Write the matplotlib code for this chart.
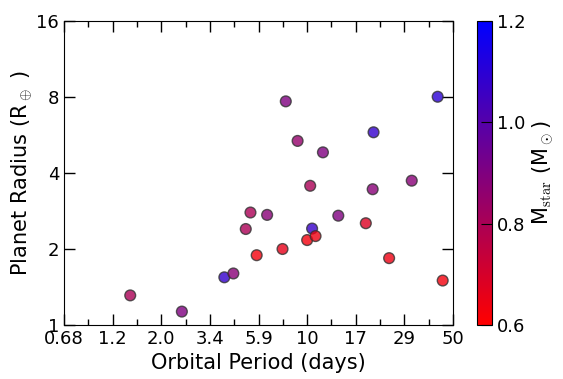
import matplotlib
matplotlib.use('Agg')
import matplotlib.pyplot as plt
import numpy as np
from matplotlib.colors import LinearSegmentedColormap
from matplotlib.ticker import FixedLocator, NullLocator, NullFormatter

plt.rcParams['font.family'] = 'DejaVu Sans'
plt.rcParams['mathtext.fontset'] = 'cm'

# orbital period (days), planet radius (R_earth), stellar mass (M_sun)
period = [1.42, 2.51, 4.01, 4.43, 5.08, 5.35, 5.73, 6.43, 7.62, 7.90, 9.0, 10.0,
          10.34, 10.56, 10.97, 11.9, 14.1, 19.1, 20.6, 20.8, 24.7, 31.7, 42.2, 44.6]
radius = [1.31, 1.13, 1.545, 1.60, 2.40, 2.79, 1.89, 2.73, 2.0, 7.69, 5.36, 2.17,
          3.56, 2.41, 2.25, 4.83, 2.71, 2.53, 3.45, 5.80, 1.84, 3.73, 8.02, 1.50]
mstar = [0.80, 0.90, 1.08, 0.88, 0.80, 0.80, 0.63, 0.88, 0.66, 0.90, 0.85, 0.63,
         0.80, 1.07, 0.64, 0.90, 0.90, 0.68, 0.88, 1.08, 0.64, 0.88, 1.10, 0.63]

xticklabels = ['0.68', '1.2', '2.0', '3.4', '5.9', '10', '17', '29', '50']
yticks = [1, 2, 4, 8, 16]
cticks = [0.6, 0.8, 1.0, 1.2]

xmin, xmax = 0.684, 50.0

fig = plt.figure(figsize=(5.63, 3.79), dpi=100)
ax = fig.add_axes([0.1137, 0.1425, 0.691, 0.802])
cax = fig.add_axes([0.847, 0.1425, 0.0266, 0.802])

cmap = LinearSegmentedColormap.from_list('rb', [(1, 0, 0), (0, 0, 1)])
sc = ax.scatter(period, radius, c=mstar, cmap=cmap, vmin=0.6, vmax=1.2,
                s=60, alpha=0.8, edgecolors='#333333', linewidths=1, zorder=3)

ax.set_xscale('log')
ax.set_yscale('log', base=2)
ax.set_xlim(xmin, xmax)
ax.set_ylim(1, 16)

xt = np.logspace(np.log10(xmin), np.log10(xmax), 9)
xm = np.sqrt(xt[:-1] * xt[1:])
ax.xaxis.set_major_locator(FixedLocator(xt))
ax.xaxis.set_minor_locator(FixedLocator(xm))
ax.xaxis.set_minor_formatter(NullFormatter())
ax.set_xticklabels(xticklabels)
ax.yaxis.set_major_locator(FixedLocator(yticks))
ax.yaxis.set_minor_locator(NullLocator())
ax.set_yticklabels([str(i) for i in yticks])

ax.tick_params(which='both', direction='in', top=True, right=True, labelsize=13)
ax.tick_params(which='major', length=8, width=1)
ax.tick_params(which='minor', length=4, width=1)

ax.set_xlabel('Orbital Period (days)', fontsize=15)
ax.set_ylabel(r'Planet Radius (R$_\oplus$ )', fontsize=15, labelpad=1)

cb = fig.colorbar(sc, cax=cax)
cb.solids.set_alpha(1)
cb.set_ticks(cticks)
cb.set_ticklabels(['%.1f' % t for t in cticks])
cax.tick_params(direction='in', length=8, labelsize=13)
cb.set_label(r'M$_{\rm star}$ (M$_\odot$)', fontsize=15)

plt.savefig('out.png', dpi=100)
plt.close()
